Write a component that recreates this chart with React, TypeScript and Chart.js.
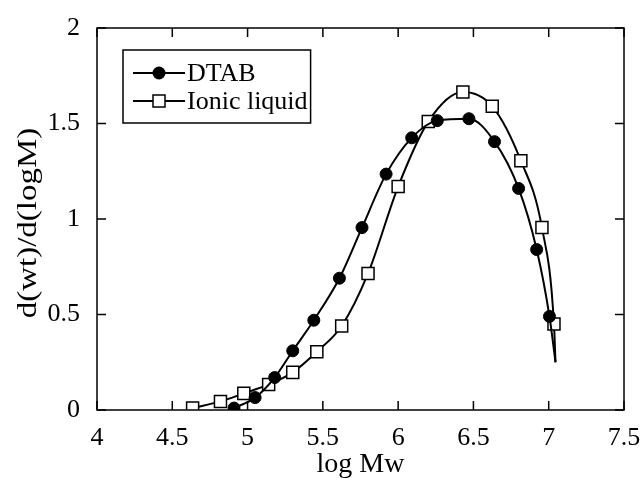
import React, { useEffect, useRef } from "react";
import { Chart, registerables } from "chart.js";

Chart.register(...registerables);

// ---- data ----
const dtabLogM = [4.91, 5.05, 5.18, 5.3, 5.44, 5.61, 5.76, 5.92, 6.09, 6.26, 6.47, 6.64, 6.8, 6.92, 7.005];
const dtabValue = [0.01, 0.065, 0.17, 0.31, 0.47, 0.69, 0.955, 1.235, 1.425, 1.515, 1.525, 1.405, 1.16, 0.84, 0.49];

const ionicLogM = [4.635, 4.82, 4.975, 5.14, 5.3, 5.46, 5.625, 5.8, 6.0, 6.2, 6.43, 6.625, 6.815, 6.955, 7.035];
const ionicValue = [0.01, 0.045, 0.087, 0.134, 0.197, 0.305, 0.44, 0.715, 1.17, 1.51, 1.665, 1.59, 1.305, 0.955, 0.45];

// end of the fitted curves (no marker)
const curveTailLogM = [7.045];
const curveTailValue = [0.25];

const xTicks = [4, 4.5, 5, 5.5, 6, 6.5, 7, 7.5];
const yTicks = [0, 0.5, 1, 1.5, 2];

const seriesNames = ["DTAB", "Ionic liquid"];
const xTitle = "log Mw";
const yTitle = "d(wt)/d(logM)";

const FONT = "'Liberation Serif', 'Times New Roman', serif";

function buildPoints(xs: number[], ys: number[]) {
  const pts = xs.map((x, i) => ({ x, y: ys[i] }));
  curveTailLogM.forEach((x, i) => pts.push({ x, y: curveTailValue[i] }));
  return pts;
}

const framePlugin = {
  id: "framePlugin",
  afterDraw(chart: any) {
    const { ctx, chartArea } = chart;
    const xs = chart.scales.x;
    const ys = chart.scales.y;
    const { left, right, top, bottom } = chartArea;
    ctx.save();
    ctx.strokeStyle = "#000";
    ctx.lineWidth = 1.5;
    ctx.strokeRect(left, top, right - left, bottom - top);
    const tl = 9;
    ctx.beginPath();
    xTicks.forEach((v) => {
      const px = xs.getPixelForValue(v);
      ctx.moveTo(px, bottom);
      ctx.lineTo(px, bottom - tl);
      ctx.moveTo(px, top);
      ctx.lineTo(px, top + tl);
    });
    yTicks.forEach((v) => {
      const py = ys.getPixelForValue(v);
      ctx.moveTo(left, py);
      ctx.lineTo(left + tl, py);
      ctx.moveTo(right, py);
      ctx.lineTo(right - tl, py);
    });
    ctx.stroke();

    // y axis title (stretched along its length as in the reference)
    ctx.save();
    ctx.translate(29, (top + bottom) / 2 + 4);
    ctx.rotate(-Math.PI / 2);
    ctx.scale(1.22, 1);
    ctx.font = `27px ${FONT}`;
    ctx.fillStyle = "#000";
    ctx.textAlign = "center";
    ctx.textBaseline = "middle";
    ctx.fillText(yTitle, 0, 0);
    ctx.restore();

    // legend box
    ctx.font = `26px ${FONT}`;
    const bx = left + 26;
    const by = top + 22;
    const textX = bx + 64;
    const maxW = Math.max(...seriesNames.map((n) => ctx.measureText(n).width));
    const bw = textX + maxW + 3 - bx;
    const bh = 73;
    ctx.lineWidth = 1.5;
    ctx.strokeRect(bx, by, bw, bh);
    const rows = [by + 23, by + 51];
    rows.forEach((ry, i) => {
      ctx.beginPath();
      ctx.lineWidth = 2;
      ctx.moveTo(bx + 10, ry);
      ctx.lineTo(bx + 62, ry);
      ctx.stroke();
      const mx = bx + 36;
      if (i === 0) {
        ctx.beginPath();
        ctx.fillStyle = "#000";
        ctx.arc(mx, ry, 6.5, 0, Math.PI * 2);
        ctx.fill();
      } else {
        ctx.fillStyle = "#fff";
        ctx.lineWidth = 1.5;
        ctx.fillRect(mx - 6, ry - 6, 12, 12);
        ctx.strokeRect(mx - 6, ry - 6, 12, 12);
      }
      ctx.fillStyle = "#000";
      ctx.textAlign = "left";
      ctx.textBaseline = "middle";
      ctx.fillText(seriesNames[i], textX, ry + 1);
    });
    ctx.restore();
  },
};

export default function App() {
  const ref = useRef<HTMLCanvasElement | null>(null);
  useEffect(() => {
    if (!ref.current) return;
    const dtabPts = buildPoints(dtabLogM, dtabValue);
    const ionicPts = buildPoints(ionicLogM, ionicValue);
    const chart = new Chart(ref.current, {
      type: "line",
      data: {
        datasets: [
          {
            label: seriesNames[0],
            data: dtabPts,
            borderColor: "#000",
            borderWidth: 2,
            pointStyle: "circle",
            pointRadius: dtabPts.map((_, i) => (i < dtabLogM.length ? 6 : 0)),
            pointBackgroundColor: "#000",
            pointBorderColor: "#000",
            pointBorderWidth: 1,
            cubicInterpolationMode: "monotone",
            fill: false,
          },
          {
            label: seriesNames[1],
            data: ionicPts,
            borderColor: "#000",
            borderWidth: 2,
            pointStyle: "rect",
            pointRadius: ionicPts.map((_, i) => (i < ionicLogM.length ? 8.5 : 0)),
            pointBackgroundColor: "#fff",
            pointBorderColor: "#000",
            pointBorderWidth: 1.5,
            cubicInterpolationMode: "monotone",
            fill: false,
          },
        ],
      },
      options: {
        animation: false,
        responsive: false,
        maintainAspectRatio: false,
        layout: { padding: { top: 28, right: 16, left: 0, bottom: 0 } },
        plugins: { legend: { display: false }, tooltip: { enabled: false } },
        scales: {
          x: {
            type: "linear",
            min: 4,
            max: 7.5,
            grid: { display: false },
            border: { display: false },
            afterBuildTicks: (s: any) => {
              s.ticks = xTicks.map((v) => ({ value: v }));
            },
            ticks: {
              color: "#000",
              font: { family: FONT, size: 26 },
              padding: 5,
              maxRotation: 0,
              autoSkip: false,
              callback: (v: any) => String(v),
            },
            title: {
              display: true,
              text: xTitle,
              color: "#000",
              font: { family: FONT, size: 28 },
              padding: { top: 0, bottom: -3 },
            },
            afterFit: (s: any) => {
              s.height = 68;
              s.paddingLeft = 0;
              s.paddingRight = 0;
            },
          },
          y: {
            min: 0,
            max: 2,
            grid: { display: false },
            border: { display: false },
            afterBuildTicks: (s: any) => {
              s.ticks = yTicks.map((v) => ({ value: v }));
            },
            ticks: {
              color: "#000",
              font: { family: FONT, size: 26 },
              padding: 9,
              autoSkip: false,
              callback: (v: any) => String(v),
            },
            afterFit: (s: any) => {
              s.width = 97;
              s.paddingTop = 0;
              s.paddingBottom = 0;
            },
          },
        },
      },
      plugins: [framePlugin],
    } as any);
    return () => chart.destroy();
  }, []);
  return (
    <div style={{ position: "fixed", left: 0, top: 0, width: 640, height: 478, background: "#fff" }}>
      <canvas ref={ref} width={640} height={478} style={{ width: 640, height: 478 }} />
    </div>
  );
}
